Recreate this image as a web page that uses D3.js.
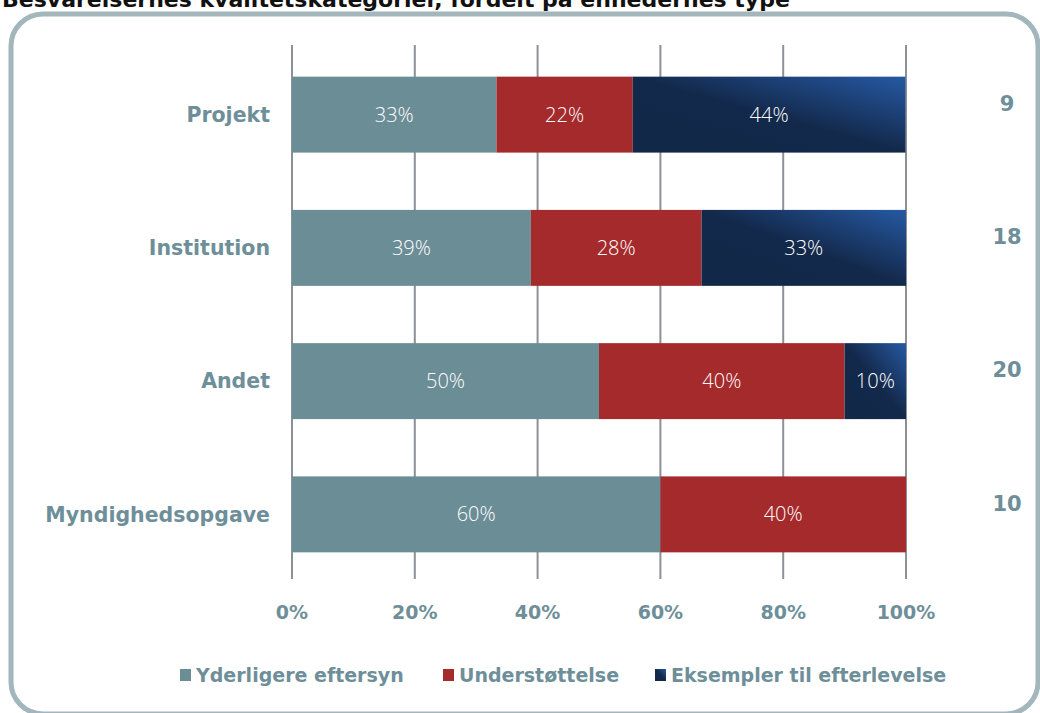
<!DOCTYPE html>
<html>
<head>
<meta charset="utf-8">
<script src="https://cdn.jsdelivr.net/npm/d3@7"></script>
<style>
  body { margin: 0; background: #fff; }
  svg { display: block; }
</style>
</head>
<body>
<svg class="canvas"></svg>
<script>
/*
	stacked 100% bars - kvalitetskategorier pr. enhedstype
*/

var dwidth = 1040;
var dheight = 713;

// data
var categories = ["Projekt", "Institution", "Andet", "Myndighedsopgave"];
var counts = [9, 18, 20, 10];
var seriesNames = ["Yderligere eftersyn", "Understøttelse", "Eksempler til efterlevelse"];
var yderligere = [33.3, 38.9, 50, 60];
var understottelse = [22.2, 27.8, 40, 40];
var eksempler = [44.4, 33.3, 10, 0];
var tickValues = [0, 20, 40, 60, 80, 100];

var seriesValues = [yderligere, understottelse, eksempler];
var fills = ["#6b8d96", "#a52a2b", "url(#navyGrad)"];
var labelCol = "#6e8f99";
var font = "'DejaVu Sans', sans-serif";

var canv = d3.select(".canvas").attr("width", dwidth).attr("height", dheight);

// gradient for the dark blue series
var defs = canv.append("defs");
var grad = defs.append("linearGradient").attr("id", "navyGrad")
	.attr("x1", 0).attr("y1", 1).attr("x2", 1).attr("y2", 0);
grad.append("stop").attr("offset", 0).attr("stop-color", "#112848");
grad.append("stop").attr("offset", 0.5).attr("stop-color", "#13294b");
grad.append("stop").attr("offset", 1).attr("stop-color", "#2659a3");

// title (cut at top in the original)
canv.append("text")
	.attr("x", 2).attr("y", 7)
	.text("Besvarelsernes kvalitetskategorier, fordelt på enhedernes type")
	.attr("font-family", font)
	.attr("font-weight", "bold")
	.attr("font-size", "22px")
	.style("fill", "#111");

// frame
canv.append("rect")
	.attr("x", 11).attr("y", 14)
	.attr("width", 1027).attr("height", 700)
	.attr("rx", 32).attr("ry", 32)
	.style("fill", "none")
	.style("stroke", "#a2b6bc")
	.style("stroke-width", 5);

// scales
var sx = d3.scaleLinear().domain([0, 100]).range([292, 906]);
var sy = d3.scaleBand().domain(categories).range([48, 581]).paddingInner(0.43).paddingOuter(0.215);

// gridlines
canv.selectAll("line.grid")
	.data(tickValues)
	.enter().append("line")
	.attr("class", "grid")
	.attr("x1", function(d) { return sx(d); })
	.attr("x2", function(d) { return sx(d); })
	.attr("y1", 45).attr("y2", 579)
	.style("stroke", "#8c9099")
	.style("stroke-width", 2);

// stack
var rows = categories.map(function(c, i) {
	var o = { cat: c };
	seriesNames.forEach(function(s, j) { o[s] = seriesValues[j][i]; });
	return o;
});
var stacked = d3.stack().keys(seriesNames)(rows);

var layers = canv.selectAll("g.layer")
	.data(stacked)
	.enter().append("g")
	.attr("class", "layer")
	.style("fill", function(d, i) { return fills[i]; });

layers.selectAll("rect")
	.data(function(d) { return d; })
	.enter().append("rect")
	.attr("x", function(d) { return sx(d[0]); })
	.attr("y", function(d) { return sy(d.data.cat); })
	.attr("width", function(d) { return sx(d[1]) - sx(d[0]); })
	.attr("height", sy.bandwidth());

layers.selectAll("text")
	.data(function(d) { return d.filter(function(v) { return v[1] - v[0] > 0; }); })
	.enter().append("text")
	.attr("x", function(d) { return (sx(d[0]) + sx(d[1])) / 2; })
	.attr("y", function(d) { return sy(d.data.cat) + sy.bandwidth() / 2; })
	.attr("dy", "0.35em")
	.text(function(d) { return Math.round(d[1] - d[0]) + "%"; })
	.attr("font-family", "'Open Sans', sans-serif")
	.attr("font-weight", 300)
	.attr("font-size", "20px")
	.style("text-anchor", "middle")
	.style("fill", "#fff");

// category labels
canv.selectAll("text.cat")
	.data(categories)
	.enter().append("text")
	.attr("class", "cat")
	.attr("x", 270)
	.attr("y", function(d) { return sy(d) + sy.bandwidth() / 2; })
	.attr("dy", "0.35em")
	.text(function(d) { return d; })
	.attr("font-family", font)
	.attr("font-weight", "bold")
	.attr("font-size", "20.5px")
	.style("text-anchor", "end")
	.style("fill", labelCol);

// counts on the right
canv.selectAll("text.cnt")
	.data(counts)
	.enter().append("text")
	.attr("class", "cnt")
	.attr("x", 1007)
	.attr("y", function(d, i) { return sy(categories[i]) + sy.bandwidth() / 2 - 11; })
	.attr("dy", "0.35em")
	.text(function(d) { return d; })
	.attr("font-family", font)
	.attr("font-weight", "bold")
	.attr("font-size", "21px")
	.style("text-anchor", "middle")
	.style("fill", labelCol);

// x axis tick labels
canv.selectAll("text.tick")
	.data(tickValues)
	.enter().append("text")
	.attr("class", "tick")
	.attr("x", function(d) { return sx(d); })
	.attr("y", 612)
	.attr("dy", "0.35em")
	.text(function(d) { return d + "%"; })
	.attr("font-family", font)
	.attr("font-weight", "bold")
	.attr("font-size", "19px")
	.style("text-anchor", "middle")
	.style("fill", labelCol);

// legend
var legX = [180, 443, 655];
var leg = canv.selectAll("g.leg")
	.data(seriesNames)
	.enter().append("g")
	.attr("class", "leg")
	.attr("transform", function(d, i) { return "translate(" + legX[i] + ",675)"; });
leg.append("rect")
	.attr("x", 0).attr("y", -6)
	.attr("width", 11).attr("height", 12)
	.style("fill", function(d, i) { return fills[i]; });
leg.append("text")
	.attr("x", 16).attr("y", 0)
	.attr("dy", "0.35em")
	.text(function(d) { return d; })
	.attr("font-family", font)
	.attr("font-weight", "bold")
	.attr("font-size", "19px")
	.style("fill", labelCol);
</script>
</body>
</html>
